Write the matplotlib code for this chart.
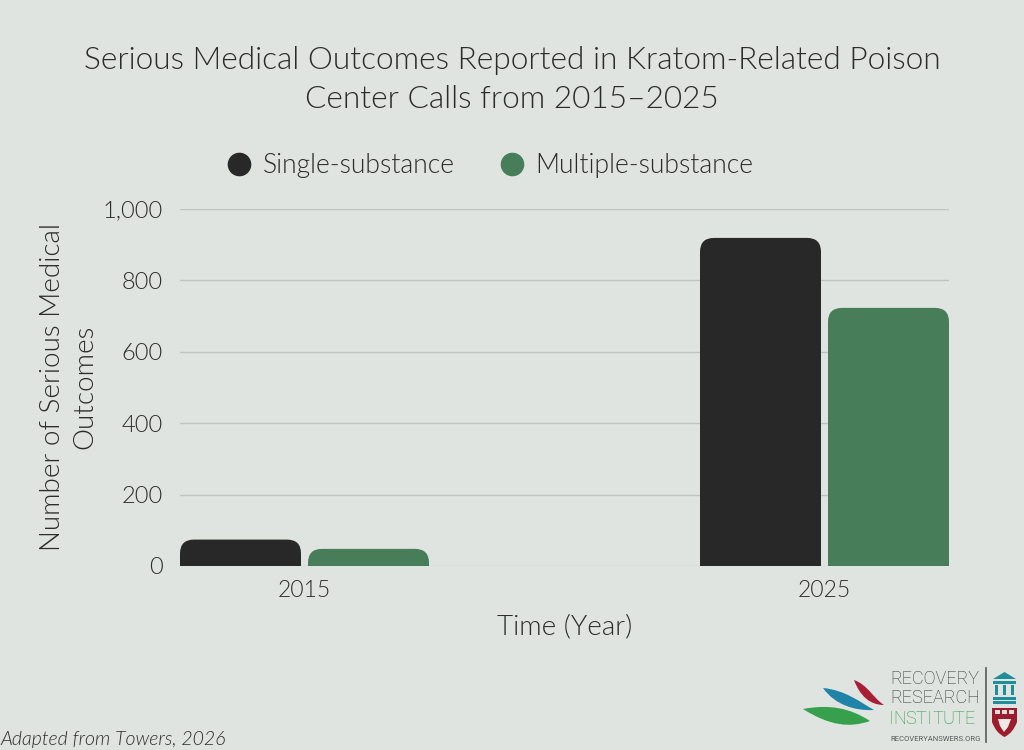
import matplotlib
matplotlib.use("Agg")
import matplotlib.pyplot as plt
from matplotlib.lines import Line2D
from matplotlib.patches import PathPatch, Polygon, Rectangle
from matplotlib.path import Path

years = ["2015", "2025"]
single_substance = [74, 919]
multiple_substance = [48, 723]
y_ticks = [0, 200, 400, 600, 800, 1000]
y_tick_labels = ["0", "200", "400", "600", "800", "1,000"]

BG = "#dfe4e0"
TEXT = "#2b2b2b"
BLACK = "#282828"
GREEN = "#477e59"
FONT = "Lato"
WEIGHT = 300

W, H = 1024, 750

plt.rcParams["font.family"] = [FONT, "DejaVu Sans"]
plt.rcParams["font.weight"] = WEIGHT


def rounded_bar(ax, x, width, height, color, r_px=14):
    # only the top corners are rounded, radius given in pixels
    ax_w, ax_h = 769, 357
    x0, x1 = ax.get_xlim()
    y0, y1 = ax.get_ylim()
    rx = r_px * (x1 - x0) / ax_w
    ry = min(r_px * (y1 - y0) / ax_h, height)
    left, right = x, x + width
    verts = [
        (left, 0), (left, height - ry), (left, height), (left + rx, height),
        (right - rx, height), (right, height), (right, height - ry),
        (right, 0), (left, 0),
    ]
    codes = [
        Path.MOVETO, Path.LINETO, Path.CURVE3, Path.CURVE3,
        Path.LINETO, Path.CURVE3, Path.CURVE3,
        Path.LINETO, Path.CLOSEPOLY,
    ]
    ax.add_patch(PathPatch(Path(verts, codes), facecolor=color,
                           edgecolor="none", zorder=3))


def leaf(ov, start, c1, c2, end, c3, c4, color):
    verts = [start, c1, c2, end, c3, c4, start]
    codes = [Path.MOVETO] + [Path.CURVE4] * 6
    ov.add_patch(PathPatch(Path(verts, codes), facecolor=color, edgecolor="none"))


def draw_logo(ov):
    leaf(ov, (803, 709), (830, 704), (850, 708), (870, 721),
         (850, 728), (830, 726), "#37a04c")
    leaf(ov, (823, 688), (845, 690), (860, 702), (874, 710),
         (855, 711), (835, 705), "#1f84a8")
    leaf(ov, (854, 680), (868, 685), (873, 698), (884, 705),
         (870, 705), (860, 696), "#a81e35")

    ov.text(890, 678.5, "RECOVERY", fontsize=13, color="#2f3437",
            va="center", ha="left", family="Roboto", fontweight="light")
    ov.text(890, 698, "RESEARCH", fontsize=13, color="#2f3437",
            va="center", ha="left", family="Roboto", fontweight="light")
    letter_x = [891.5, 900, 910.5, 920.5, 929, 938, 948.5, 959, 969.5]
    for x, letter in zip(letter_x, "INSTITUTE"):
        ov.text(x, 719, letter, fontsize=13, color="#2f9a48",
                va="center", ha="center", family="Roboto", fontweight="light")
    ov.text(890, 739, "RECOVERYANSWERS.ORG", fontsize=5.5, color="#555a5c",
            va="center", ha="left", family="Roboto", fontweight="normal")
    ov.plot([986, 986], [668, 742], color="#555a5c", lw=1.2)

    # building icon
    ov.add_patch(Polygon([(993, 679), (1004.5, 672), (1016, 679)], closed=True,
                         facecolor="#1f8d9a", edgecolor="none"))
    ov.add_patch(Rectangle((993, 681), 23, 2.5, facecolor="#1f8d9a", edgecolor="none"))
    for cx in (995, 1003, 1011):
        ov.add_patch(Rectangle((cx, 685), 3, 10, facecolor="#1f8d9a", edgecolor="none"))
    ov.add_patch(Rectangle((993, 697), 23, 2.5, facecolor="#1f8d9a", edgecolor="none"))
    ov.add_patch(Rectangle((993, 701), 23, 2.5, facecolor="#1f8d9a", edgecolor="none"))

    # shield
    ov.add_patch(PathPatch(Path(
        [(992, 708), (1017, 708), (1017, 722), (1013, 733), (1004.5, 737),
         (996, 733), (992, 722), (992, 708)],
        [Path.MOVETO, Path.LINETO, Path.LINETO, Path.CURVE3, Path.CURVE3,
         Path.CURVE3, Path.CURVE3, Path.CLOSEPOLY]),
        facecolor="#9c1c2e", edgecolor="none"))
    for bx in (995, 1002, 1009):
        ov.add_patch(Rectangle((bx, 710), 5, 4, facecolor="#e8dcd8", edgecolor="none"))
    ov.add_patch(Polygon([(998, 719), (1011, 719), (1008, 727), (1004, 732), (1000, 726)],
                         closed=True, facecolor="#efe8e6", edgecolor="none"))


fig = plt.figure(figsize=(W / 100, H / 100), dpi=100, facecolor=BG)
ax = fig.add_axes([180 / W, 1 - 566 / H, 769 / W, 357 / H], facecolor=BG)

bar_w = 121 / 520
gap = 7 / 520
ax.set_xlim(-124.5 / 520, 1 + 124.5 / 520)
ax.set_ylim(0, 1000)

for i in range(len(years)):
    rounded_bar(ax, i - gap / 2 - bar_w, bar_w, single_substance[i], BLACK)
    rounded_bar(ax, i + gap / 2, bar_w, multiple_substance[i], GREEN)

ax.set_xticks(range(len(years)))
ax.set_xticklabels(years, fontsize=16.5, color=TEXT)
ax.set_yticks(y_ticks)
ax.set_yticklabels(y_tick_labels, fontsize=17, color=TEXT)
ax.tick_params(axis="x", length=0, pad=10)
ax.tick_params(axis="y", length=0, pad=12.4)
ax.grid(axis="y", color="#bfc4c0", linewidth=1.0, zorder=1)
ax.set_axisbelow(True)
for spine in ax.spines.values():
    spine.set_visible(False)

handles = [
    Line2D([], [], marker="o", linestyle="none", markersize=16,
           color=BLACK, label="Single-substance"),
    Line2D([], [], marker="o", linestyle="none", markersize=16,
           color=GREEN, label="Multiple-substance"),
]
fig.legend(handles=handles, ncols=2, loc="center", frameon=False,
           bbox_to_anchor=(483 / W, 1 - 166 / H), fontsize=19.1, labelcolor=TEXT,
           handletextpad=-0.1, columnspacing=1.15)

fig.text(512 / W, 1 - 80 / H,
         "Serious Medical Outcomes Reported in Kratom-Related Poison\nCenter Calls from 2015\u20132025",
         ha="center", va="center", fontsize=22.8, color=TEXT, linespacing=1.45)
fig.text(564.5 / W, 1 - 627 / H, "Time (Year)", ha="center", va="center",
         fontsize=20, color=TEXT)
fig.text(68.5 / W, 1 - 387 / H, "Number of Serious Medical\nOutcomes", ha="center",
         va="center", rotation=90, fontsize=20, color=TEXT, linespacing=1.38,
         multialignment="center")
fig.text(0, 1 - 739 / H, "Adapted from Towers, 2026", ha="left", va="center",
         fontsize=14, style="italic", color=TEXT)

# overlay in pixel coordinates for the logo
ov = fig.add_axes([0, 0, 1, 1], facecolor="none")
ov.set_xlim(0, W)
ov.set_ylim(H, 0)
ov.axis("off")
draw_logo(ov)

fig.savefig("out.png", dpi=100, facecolor=BG)
